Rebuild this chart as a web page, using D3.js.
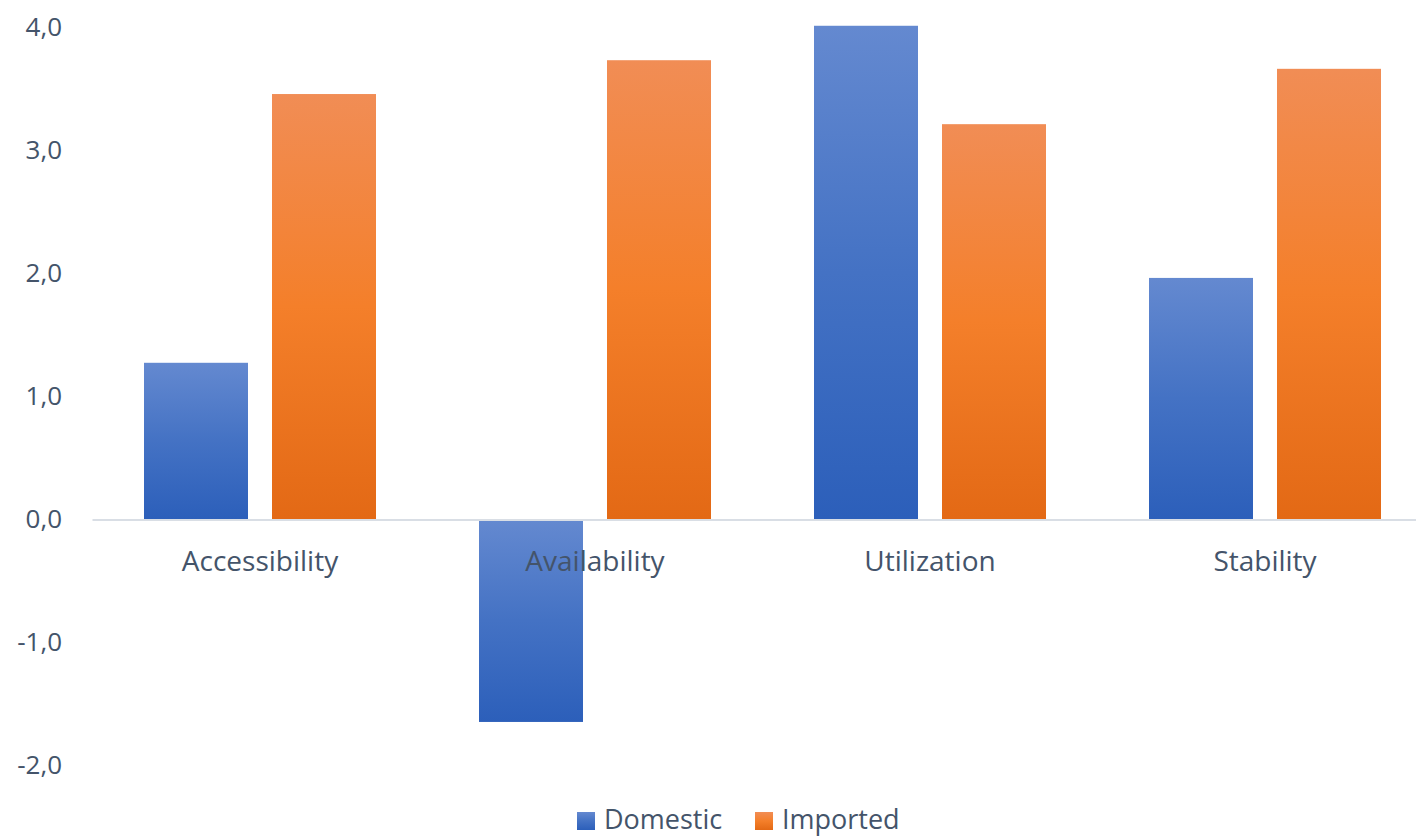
<!DOCTYPE html>
<html>
<head>
<meta charset="utf-8">
<script src="https://cdn.jsdelivr.net/npm/d3@7"></script>
<style>
  html, body { margin: 0; padding: 0; background: #fff; }
  svg { display: block; }
  text { font-family: "Open Sans", "Noto Sans", sans-serif; fill: #44546a; }
</style>
</head>
<body>
<svg id="chart" width="1416" height="839"></svg>
<script>
// Food security pillars: domestic vs imported scores
const categories = ["Accessibility", "Availability", "Utilization", "Stability"];
const seriesNames = ["Domestic", "Imported"];
const domestic = [1.27, -1.65, 4.01, 1.96];
const imported = [3.455, 3.73, 3.21, 3.66];
const yTicks = [-2, -1, 0, 1, 2, 3, 4];

const svg = d3.select("#chart");
const W = 1416;
const plotLeft = 92.5, bandW = 335, groupW = 232;

const x = d3.scaleBand().domain(categories)
  .range([plotLeft, plotLeft + bandW * categories.length]).padding(0);
const x1 = d3.scaleBand().domain(seriesNames)
  .range([(bandW - groupW) / 2, (bandW + groupW) / 2]).paddingInner(24 / 128).paddingOuter(0);
const y = d3.scaleLinear().domain([-2, 4]).range([765, 27]);

// per-bar vertical gradients (light at top, dark at bottom)
const defs = svg.append("defs");
const grads = {
  Domestic: ["#6489d0", "#4472c4", "#2c5fba"],
  Imported: ["#f18d55", "#f47f2a", "#e36915"]
};
Object.entries(grads).forEach(([k, c]) => {
  const g = defs.append("linearGradient").attr("id", "g-" + k)
    .attr("x1", 0).attr("y1", 0).attr("x2", 0).attr("y2", 1);
  g.append("stop").attr("offset", "0%").attr("stop-color", c[0]);
  g.append("stop").attr("offset", "50%").attr("stop-color", c[1]);
  g.append("stop").attr("offset", "100%").attr("stop-color", c[2]);
});

// y-axis labels
const fmt = v => d3.format(".1f")(v).replace(".", ",").replace("−", "-");
svg.append("g").selectAll("text").data(yTicks).join("text")
  .attr("x", 62).attr("y", d => y(d)).attr("dy", "0.35em")
  .attr("text-anchor", "end").attr("font-size", 26)
  .text(fmt);

// bars
const rows = categories.map((c, i) => ({ cat: c, values: [
  { s: "Domestic", v: domestic[i] }, { s: "Imported", v: imported[i] }
]}));
const groups = svg.append("g").selectAll("g").data(rows).join("g")
  .attr("transform", d => `translate(${x(d.cat)},0)`);
groups.selectAll("rect").data(d => d.values).join("rect")
  .attr("x", d => x1(d.s))
  .attr("width", x1.bandwidth())
  .attr("y", d => y(Math.max(0, d.v)))
  .attr("height", d => Math.abs(y(d.v) - y(0)))
  .attr("fill", d => `url(#g-${d.s})`);

// zero baseline
svg.append("line")
  .attr("x1", plotLeft).attr("x2", W)
  .attr("y1", y(0) + 1).attr("y2", y(0) + 1)
  .attr("stroke", "#d9dee5").attr("stroke-width", 2);

// category labels
svg.append("g").selectAll("text").data(categories).join("text")
  .attr("x", d => x(d) + x.bandwidth() / 2).attr("y", 561).attr("dy", "0.35em")
  .attr("text-anchor", "middle").attr("font-size", 28)
  .text(d => d);

// legend
const legend = svg.append("g");
const legendItems = [{ s: "Domestic", x: 577 }, { s: "Imported", x: 755 }];
legendItems.forEach(it => {
  legend.append("rect").attr("x", it.x).attr("y", 812).attr("width", 18).attr("height", 18)
    .attr("fill", `url(#g-${it.s})`);
  legend.append("text").attr("x", it.x + 27).attr("y", 820).attr("dy", "0.35em")
    .attr("font-size", 27).text(it.s);
});
</script>
</body>
</html>
